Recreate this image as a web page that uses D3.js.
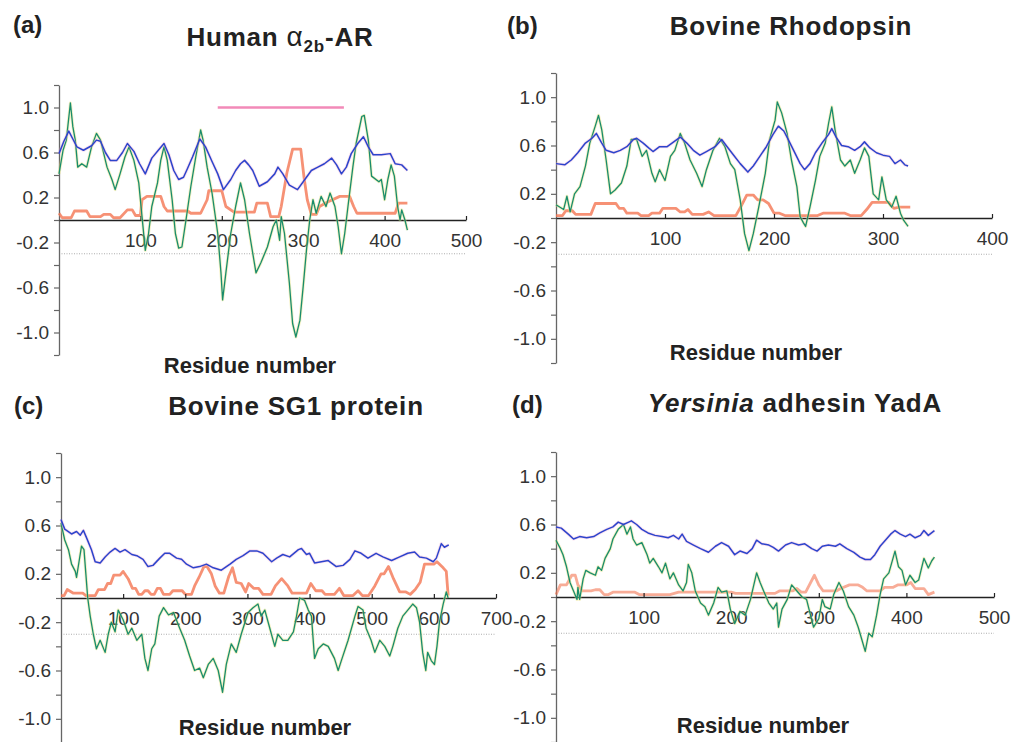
<!DOCTYPE html>
<html>
<head>
<meta charset="utf-8">
<script src="https://cdn.jsdelivr.net/npm/d3@7"></script>
<style>
  body { margin: 0; background: #fff; }
  text { font-family: "Liberation Sans", Arial, sans-serif; }
</style>
</head>
<body>
<div id="chart"></div>
<script>
// Series: [residue, value]
const aBlue = [[0,0.59],[6,0.70],[12,0.79],[17,0.72],[22,0.65],[30,0.62],[35,0.64],[40,0.66],[46,0.71],[51,0.70],[57,0.60],[63,0.53],[71,0.53],[78,0.60],[84,0.68],[92,0.61],[99,0.50],[106,0.41],[114,0.55],[122,0.62],[129,0.68],[135,0.58],[141,0.44],[147,0.36],[153,0.38],[158,0.46],[164,0.56],[173,0.72],[180,0.65],[188,0.52],[195,0.41],[202,0.27],[211,0.36],[217,0.44],[223,0.50],[228,0.53],[233,0.49],[238,0.44],[246,0.30],[256,0.34],[265,0.41],[269,0.47],[275,0.41],[283,0.31],[293,0.27],[302,0.36],[310,0.44],[318,0.47],[326,0.50],[335,0.55],[341,0.49],[347,0.41],[353,0.47],[359,0.59],[367,0.68],[374,0.74],[380,0.65],[386,0.58],[396,0.58],[407,0.59],[413,0.50],[421,0.49],[428,0.44]];
const aGreen = [[0,0.41],[5,0.62],[9,0.71],[14,1.04],[17,0.83],[20,0.71],[23,0.47],[28,0.50],[34,0.47],[40,0.65],[46,0.77],[51,0.71],[59,0.47],[65,0.36],[69,0.27],[75,0.41],[81,0.56],[86,0.65],[92,0.53],[98,0.33],[102,0.03],[106,-0.27],[110,-0.12],[114,0.12],[121,0.33],[125,0.53],[129,0.65],[133,0.53],[139,0.18],[143,-0.12],[147,-0.25],[151,-0.24],[156,0.00],[162,0.30],[168,0.56],[174,0.80],[177,0.71],[182,0.47],[188,0.24],[195,-0.12],[199,-0.47],[201,-0.71],[205,-0.47],[211,-0.12],[217,0.12],[223,0.33],[228,0.18],[234,-0.12],[242,-0.47],[248,-0.38],[256,-0.24],[263,-0.06],[267,0.00],[271,-0.18],[273,0.03],[277,-0.12],[283,-0.56],[287,-0.92],[291,-1.04],[296,-0.89],[300,-0.59],[304,-0.27],[308,0.00],[312,0.18],[316,0.06],[322,0.21],[328,0.12],[333,0.24],[339,0.12],[343,-0.06],[347,-0.30],[351,-0.12],[355,0.12],[361,0.47],[365,0.68],[372,0.92],[375,0.93],[380,0.71],[384,0.39],[393,0.34],[396,0.36],[400,0.18],[404,0.36],[408,0.49],[412,0.39],[416,0.12],[419,0.00],[421,0.09],[425,0.00],[428,-0.09]];
const aOrange = [[0,0.06],[4,0.02],[15,0.02],[19,0.08],[34,0.08],[38,0.03],[51,0.03],[55,0.05],[63,0.05],[67,0.02],[75,0.02],[84,0.09],[90,0.09],[94,0.04],[100,0.04],[102,0.18],[108,0.21],[125,0.21],[129,0.12],[133,0.08],[158,0.08],[162,0.06],[174,0.06],[182,0.18],[184,0.26],[200,0.26],[205,0.12],[215,0.07],[240,0.07],[243,0.15],[256,0.15],[260,0.03],[270,0.03],[273,0.12],[280,0.42],[287,0.63],[297,0.63],[301,0.38],[305,0.18],[310,0.05],[316,0.05],[320,0.12],[330,0.16],[345,0.21],[357,0.21],[362,0.12],[366,0.06],[413,0.06],[417,0.15],[428,0.15]];

const bBlue = [[0,0.45],[8,0.44],[14,0.48],[20,0.54],[27,0.62],[33,0.66],[37,0.70],[42,0.62],[46,0.56],[53,0.54],[59,0.56],[65,0.59],[71,0.65],[74,0.66],[80,0.62],[85,0.58],[89,0.55],[95,0.59],[102,0.59],[108,0.63],[114,0.67],[120,0.62],[126,0.56],[132,0.52],[138,0.55],[146,0.59],[152,0.65],[157,0.59],[163,0.52],[169,0.45],[176,0.38],[181,0.43],[187,0.51],[193,0.59],[199,0.69],[204,0.76],[209,0.72],[213,0.65],[218,0.56],[224,0.45],[228,0.40],[233,0.45],[238,0.54],[244,0.62],[250,0.69],[253,0.74],[257,0.67],[262,0.60],[268,0.59],[274,0.56],[279,0.59],[283,0.63],[288,0.58],[294,0.54],[300,0.52],[306,0.51],[311,0.45],[316,0.48],[320,0.44],[323,0.43]];
const bGreen = [[0,0.11],[7,0.07],[10,0.18],[13,0.05],[17,0.20],[22,0.26],[27,0.43],[31,0.62],[36,0.76],[39,0.85],[42,0.73],[46,0.48],[50,0.20],[54,0.23],[60,0.29],[65,0.43],[69,0.65],[74,0.65],[79,0.51],[83,0.56],[88,0.37],[91,0.30],[95,0.40],[100,0.31],[105,0.51],[109,0.56],[114,0.70],[118,0.62],[123,0.48],[129,0.37],[134,0.26],[138,0.40],[144,0.56],[150,0.66],[155,0.59],[160,0.45],[164,0.40],[169,0.15],[173,-0.13],[177,-0.27],[181,-0.13],[186,0.09],[192,0.37],[196,0.65],[201,0.81],[203,0.96],[207,0.87],[212,0.70],[216,0.48],[221,0.26],[224,0.01],[227,-0.04],[229,-0.07],[233,0.09],[238,0.31],[242,0.51],[247,0.62],[250,0.78],[253,0.92],[256,0.73],[261,0.48],[265,0.43],[270,0.48],[274,0.37],[279,0.48],[283,0.58],[287,0.51],[291,0.20],[296,0.15],[299,0.34],[303,0.15],[308,0.09],[312,0.18],[316,0.04],[319,-0.02],[323,-0.07]];
const bOrange = [[0,0.02],[6,0.02],[9,0.06],[15,0.06],[18,0.03],[32,0.03],[36,0.12],[55,0.12],[58,0.08],[62,0.08],[65,0.04],[75,0.04],[78,0.02],[85,0.02],[88,0.04],[95,0.04],[98,0.08],[110,0.08],[114,0.05],[118,0.05],[121,0.07],[125,0.03],[135,0.03],[140,0.05],[145,0.02],[165,0.02],[170,0.10],[175,0.19],[181,0.19],[185,0.15],[190,0.15],[195,0.12],[200,0.04],[205,0.04],[210,0.02],[240,0.02],[245,0.04],[265,0.04],[270,0.02],[280,0.02],[285,0.07],[290,0.13],[305,0.13],[310,0.08],[315,0.09],[325,0.09]];

const cBlue = [[0,0.65],[6,0.57],[17,0.53],[25,0.55],[31,0.52],[36,0.56],[41,0.50],[49,0.40],[55,0.30],[63,0.29],[71,0.34],[79,0.38],[87,0.41],[95,0.38],[103,0.40],[114,0.36],[122,0.35],[132,0.32],[140,0.26],[148,0.27],[159,0.33],[167,0.37],[175,0.37],[186,0.33],[194,0.32],[202,0.28],[213,0.25],[223,0.26],[234,0.28],[245,0.25],[258,0.23],[272,0.28],[282,0.32],[293,0.35],[304,0.39],[315,0.39],[325,0.37],[339,0.30],[347,0.33],[357,0.36],[368,0.34],[382,0.40],[387,0.41],[395,0.36],[400,0.37],[408,0.29],[419,0.30],[430,0.31],[443,0.26],[454,0.27],[465,0.32],[473,0.39],[483,0.37],[494,0.33],[507,0.37],[518,0.34],[532,0.31],[545,0.34],[558,0.37],[569,0.38],[577,0.34],[588,0.33],[599,0.30],[604,0.33],[612,0.45],[617,0.42],[624,0.44]];
const cGreen = [[0,0.62],[6,0.48],[12,0.40],[17,0.28],[23,0.22],[25,0.17],[29,0.30],[33,0.43],[37,0.40],[40,0.20],[43,0.00],[47,-0.15],[52,-0.30],[57,-0.42],[63,-0.35],[71,-0.45],[76,-0.30],[81,-0.20],[87,-0.28],[92,-0.10],[100,-0.18],[108,-0.30],[114,-0.25],[122,-0.35],[130,-0.30],[135,-0.50],[140,-0.60],[146,-0.42],[151,-0.38],[158,-0.15],[165,-0.08],[173,-0.14],[181,-0.12],[191,-0.25],[199,-0.35],[207,-0.48],[215,-0.60],[223,-0.58],[229,-0.66],[237,-0.55],[245,-0.50],[253,-0.60],[260,-0.78],[266,-0.55],[274,-0.38],[282,-0.45],[290,-0.30],[301,-0.12],[309,-0.08],[317,-0.05],[322,-0.15],[328,-0.10],[336,-0.25],[344,-0.40],[349,-0.30],[357,-0.35],[365,-0.35],[374,-0.28],[379,-0.15],[384,0.00],[392,-0.02],[398,-0.10],[403,-0.15],[408,-0.50],[414,-0.42],[422,-0.38],[430,-0.40],[440,-0.50],[446,-0.60],[451,-0.52],[462,-0.35],[473,-0.15],[478,-0.07],[486,-0.10],[491,-0.25],[499,-0.35],[505,-0.45],[513,-0.35],[521,-0.40],[529,-0.48],[534,-0.40],[542,-0.25],[550,-0.15],[558,-0.10],[566,-0.05],[572,-0.08],[577,-0.20],[582,-0.45],[587,-0.60],[590,-0.45],[596,-0.52],[601,-0.55],[605,-0.40],[609,-0.20],[615,-0.05],[620,0.05],[623,0.00]];
const cOrange = [[0,0.02],[5,0.02],[10,0.07],[20,0.04],[35,0.04],[40,0.02],[55,0.02],[60,0.07],[70,0.07],[75,0.12],[80,0.12],[85,0.19],[95,0.19],[100,0.22],[108,0.16],[115,0.08],[120,0.08],[125,0.03],[130,0.03],[135,0.06],[140,0.06],[145,0.03],[150,0.03],[155,0.08],[160,0.08],[165,0.03],[175,0.03],[180,0.06],[195,0.06],[200,0.03],[210,0.03],[215,0.10],[222,0.17],[230,0.26],[235,0.26],[242,0.20],[248,0.10],[255,0.04],[262,0.04],[270,0.18],[276,0.25],[282,0.13],[290,0.12],[297,0.05],[302,0.12],[310,0.08],[318,0.08],[325,0.03],[338,0.03],[345,0.10],[355,0.16],[365,0.10],[372,0.04],[395,0.04],[402,0.12],[410,0.06],[420,0.06],[425,0.03],[440,0.03],[448,0.08],[455,0.02],[470,0.02],[478,0.06],[485,0.02],[495,0.02],[505,0.10],[515,0.20],[520,0.20],[527,0.26],[535,0.16],[545,0.05],[555,0.05],[562,0.03],[570,0.07],[578,0.13],[585,0.28],[600,0.28],[605,0.30],[615,0.25],[620,0.22],[623,0.02]];

const dBlue = [[0,0.58],[6,0.57],[14,0.52],[20,0.48],[27,0.50],[35,0.49],[43,0.50],[50,0.53],[58,0.56],[65,0.58],[71,0.62],[77,0.60],[83,0.62],[86,0.63],[92,0.60],[98,0.56],[105,0.53],[113,0.51],[121,0.50],[128,0.49],[134,0.51],[140,0.48],[144,0.52],[149,0.46],[157,0.43],[165,0.40],[174,0.37],[182,0.42],[189,0.45],[197,0.42],[204,0.35],[210,0.38],[218,0.36],[224,0.40],[229,0.47],[235,0.44],[243,0.43],[248,0.41],[254,0.38],[262,0.43],[269,0.45],[277,0.43],[284,0.44],[292,0.40],[298,0.38],[304,0.42],[311,0.43],[319,0.42],[324,0.44],[332,0.40],[340,0.37],[347,0.33],[353,0.31],[359,0.31],[364,0.35],[370,0.42],[376,0.47],[382,0.52],[387,0.55],[393,0.52],[399,0.50],[404,0.52],[410,0.49],[416,0.51],[420,0.55],[425,0.51],[432,0.55]];
const dGreen = [[0,0.47],[5,0.40],[8,0.35],[12,0.25],[16,0.12],[20,0.05],[24,-0.02],[25,0.08],[27,-0.02],[31,0.15],[34,0.22],[39,0.20],[45,0.18],[48,0.25],[52,0.22],[56,0.32],[62,0.40],[65,0.48],[71,0.56],[77,0.60],[81,0.52],[85,0.58],[88,0.48],[92,0.43],[98,0.45],[104,0.35],[107,0.28],[111,0.32],[117,0.25],[121,0.20],[125,0.28],[130,0.15],[134,0.20],[140,0.10],[145,0.05],[149,0.12],[151,0.27],[155,0.20],[159,0.05],[165,-0.05],[170,-0.08],[174,-0.15],[180,-0.05],[185,0.08],[189,0.04],[195,0.05],[199,-0.10],[204,-0.22],[210,-0.12],[216,-0.15],[222,-0.02],[229,0.20],[233,0.12],[237,0.05],[243,-0.05],[248,-0.10],[252,-0.05],[254,-0.25],[258,-0.10],[264,-0.02],[269,0.10],[275,0.05],[281,0.00],[286,-0.02],[294,-0.25],[300,-0.18],[304,-0.02],[307,-0.08],[313,-0.10],[317,0.02],[323,0.12],[328,0.05],[334,-0.08],[340,-0.15],[345,-0.25],[349,-0.35],[353,-0.45],[357,-0.30],[361,-0.33],[366,-0.15],[370,0.02],[374,0.15],[380,0.20],[387,0.38],[391,0.25],[395,0.22],[399,0.10],[404,0.18],[410,0.12],[414,0.14],[420,0.32],[425,0.24],[429,0.30],[432,0.33]];
const dOrange = [[0,0.02],[5,0.10],[12,0.10],[18,0.18],[22,0.18],[25,0.10],[30,0.05],[40,0.05],[45,0.06],[50,0.06],[55,0.02],[60,0.02],[65,0.04],[90,0.04],[95,0.02],[130,0.02],[140,0.04],[200,0.04],[205,0.03],[250,0.03],[255,0.05],[270,0.05],[275,0.07],[280,0.04],[285,0.04],[295,0.18],[300,0.10],[305,0.05],[320,0.05],[325,0.07],[335,0.10],[345,0.10],[350,0.08],[355,0.05],[370,0.05],[375,0.08],[385,0.08],[390,0.10],[400,0.10],[405,0.12],[410,0.07],[420,0.07],[425,0.02],[432,0.04]];

const yTicks = d3.range(-6, 7).map(i => +(i * 0.2).toFixed(1));
const yLabelled = [-1.0, -0.6, -0.2, 0.2, 0.6, 1.0];

const panels = [
  { tag: "(a)", xMax: 500, xTicks: [100, 200, 300, 400, 500], left: 59, right: 466, top: 85, bottom: 355,
    tagX: 13, tagY: 33, titleX: 280, titleY: 46, resX: 250, resY: 373,
    blue: aBlue, green: aGreen, orange: aOrange, bar: [195, 350] },
  { tag: "(b)", xMax: 400, xTicks: [100, 200, 300, 400], left: 556, right: 992, top: 73, bottom: 363,
    tagX: 507, tagY: 34, titleX: 791, titleY: 35, resX: 756, resY: 360,
    blue: bBlue, green: bGreen, orange: bOrange },
  { tag: "(c)", xMax: 700, xTicks: [100, 200, 300, 400, 500, 600, 700], left: 61, right: 496, top: 453, bottom: 743,
    tagX: 14, tagY: 414, titleX: 296, titleY: 415, resX: 265, resY: 735,
    blue: cBlue, green: cGreen, orange: cOrange },
  { tag: "(d)", xMax: 500, xTicks: [100, 200, 300, 400, 500], left: 556, right: 994, top: 452, bottom: 742,
    tagX: 512, tagY: 413, titleX: 795, titleY: 412, resX: 763, resY: 733,
    blue: dBlue, green: dGreen, orange: dOrange }
];

const svg = d3.select("#chart").append("svg")
  .attr("width", 1011)
  .attr("height", 742);

panels.forEach((p, i) => {
  const x = d3.scaleLinear().domain([0, p.xMax]).range([p.left, p.right]);
  const y = d3.scaleLinear().domain([-1.2, 1.2]).range([p.bottom, p.top]);
  const g = svg.append("g");

  // dotted reference line at -0.3
  g.append("line")
    .attr("x1", x(0)).attr("x2", x(p.xMax))
    .attr("y1", y(-0.3)).attr("y2", y(-0.3))
    .attr("stroke", "#999").attr("stroke-width", 0.8)
    .attr("stroke-dasharray", "1 1.5");

  // y axis
  const yAxis = g.append("g")
    .attr("transform", `translate(${p.left},0)`)
    .call(d3.axisLeft(y).tickValues(yTicks).tickSize(5).tickSizeOuter(0).tickPadding(5)
      .tickFormat(d => yLabelled.includes(d) ? (d < 0 ? "-" : "") + Math.abs(d).toFixed(1) : ""));
  yAxis.select(".domain").attr("stroke", "#666").attr("stroke-width", 1.3);
  yAxis.selectAll(".tick line").attr("stroke", "#666").attr("stroke-width", 1.2);
  yAxis.selectAll("text").attr("fill", "#333").style("font-size", "19px")
    .style("font-family", "'Liberation Sans', Arial, sans-serif");

  const line = d3.line().x(d => x(d[0])).y(d => y(d[1]));

  // orange series
  g.append("path").datum(p.orange).attr("d", line)
    .attr("fill", "none").attr("stroke", "#f47552").attr("stroke-opacity", i === 3 ? 0.6 : 0.8)
    .attr("stroke-width", 2.8).attr("stroke-linejoin", "round");

  // x axis (ticks point up, labels below)
  const xAxis = g.append("g")
    .attr("transform", `translate(0,${y(0)})`)
    .call(d3.axisBottom(x).tickValues(p.xTicks).tickSize(-4).tickSizeOuter(0).tickPadding(14));
  xAxis.select(".domain").attr("stroke", "#222").attr("stroke-width", 1.3);
  xAxis.selectAll(".tick line").attr("stroke", "#222").attr("stroke-width", 1.2);
  xAxis.selectAll("text").attr("fill", "#333").style("font-size", "19px")
    .style("font-family", "'Liberation Sans', Arial, sans-serif");

  // green series with faint yellow halo
  g.append("path").datum(p.green).attr("d", line)
    .attr("fill", "none").attr("stroke", "#e6e07a").attr("stroke-opacity", 0.45)
    .attr("stroke-width", 3).attr("stroke-linejoin", "round");
  g.append("path").datum(p.green).attr("d", line)
    .attr("fill", "none").attr("stroke", "#198c6c").attr("stroke-width", 1.3)
    .attr("stroke-linejoin", "round");

  // blue series with faint pink halo
  g.append("path").datum(p.blue).attr("d", line)
    .attr("fill", "none").attr("stroke", "#f0a8d0").attr("stroke-opacity", 0.35)
    .attr("stroke-width", 3.2).attr("stroke-linejoin", "round");
  g.append("path").datum(p.blue).attr("d", line)
    .attr("fill", "none").attr("stroke", "#2c44cc").attr("stroke-width", 1.5)
    .attr("stroke-linejoin", "round");

  if (p.bar) {
    g.append("line")
      .attr("x1", x(p.bar[0])).attr("x2", x(p.bar[1]))
      .attr("y1", y(1.0)).attr("y2", y(1.0))
      .attr("stroke", "#f28ab8").attr("stroke-width", 2.5);
  }

  // panel tag
  g.append("text").attr("x", p.tagX).attr("y", p.tagY)
    .style("font-size", "24px").style("font-weight", "bold").attr("fill", "#222")
    .text(p.tag);

  // title
  const t = g.append("text").attr("x", p.titleX).attr("y", p.titleY)
    .attr("text-anchor", "middle")
    .style("font-size", "26px").style("font-weight", "bold").style("letter-spacing", "0.8px")
    .attr("fill", "#222");
  if (i === 0) {
    t.append("tspan").text("Human ");
    t.append("tspan").style("font-weight", "normal").style("font-size", "28px").text("α");
    t.append("tspan").attr("dy", 6).style("font-size", "17px").text("2b");
    t.append("tspan").attr("dy", -6).text("-AR");
  } else if (i === 1) {
    t.text("Bovine Rhodopsin");
  } else if (i === 2) {
    t.text("Bovine SG1 protein");
  } else {
    t.append("tspan").style("font-style", "italic").text("Yersinia");
    t.append("tspan").text(" adhesin YadA");
  }

  // x axis title
  g.append("text").attr("x", p.resX).attr("y", p.resY)
    .attr("text-anchor", "middle")
    .style("font-size", "22px").style("font-weight", "bold").attr("fill", "#222")
    .text("Residue number");
});
</script>
</body>
</html>
